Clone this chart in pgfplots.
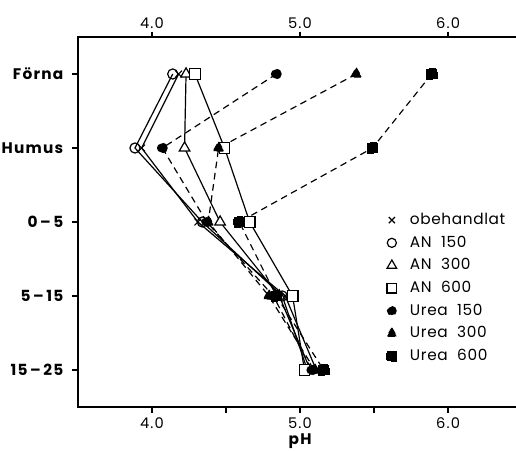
\documentclass[border=0pt]{standalone}
\usepackage{pgfplots}
\pgfplotsset{compat=1.18}
\usepackage{fontspec}
\setmainfont{Poppins}
\newfontfamily\lfont{Poppins}[LetterSpace=8]
\newfontfamily\gfont{Poppins}[LetterSpace=4]
\begin{document}
\begin{tikzpicture}
\useasboundingbox (0,0) rectangle (387pt,337.5pt);
\clip (0,0) rectangle (387pt,337.5pt);
\pgfplotsset{
  common/.style={
    scale only axis, width=344.1pt, height=277.5pt,
    at={(58.5pt,32.25pt)}, anchor=south west,
    xmin=3.5, xmax=6.6, ymin=-0.5, ymax=4.5, y dir=reverse,
    axis line style={line width=1.1pt, black},
    tick style={line width=0.9pt, black},
    tick align=outside,
    /pgf/number format/assume math mode=true,
    ticklabel style={font=\fontsize{11}{12}\selectfont\lfont},
  },
  solidline/.style={black, line width=0.9pt, solid},
  dashline/.style={black, line width=0.9pt, dash pattern=on 5pt off 3.5pt, mark options={solid}},
}
\begin{axis}[common,
  xtick={4,4.5,5,5.5,6}, xticklabels={4.0,,5.0,,6.0},
  xtick pos=lower, xticklabel pos=lower,
  major tick length=4.5pt,
  ytick={0,1,2,3,4},
  yticklabels={Förna,Humus,0\,–\,5,5\,–\,15,15\,–\,25},
  yticklabel style={font=\fontsize{11.5}{12}\selectfont\lfont\bfseries, xshift=-3pt},
  ytick pos=left,
  xlabel={pH},
  xlabel style={font=\fontsize{11.5}{12}\selectfont\lfont\bfseries, at={(axis description cs:0.484,0)}, anchor=north, inner sep=0pt, yshift=-19.5pt},
  legend style={draw=none, fill=none, at={(axis description cs:0.673,0.53)}, anchor=north west,
    font=\fontsize{11.5}{12}\selectfont\gfont, inner sep=0pt, row sep=3.5pt, column sep=8pt,
    nodes={text height=8pt, text depth=1.5pt}},
  legend cell align=left,
  legend image code/.code={\draw[#1, every mark/.append style={scale=0.9}] plot[only marks] coordinates {(0pt,0pt)};},
]
\addplot[solidline, mark=x, mark size=3.6pt] coordinates {(4.18,0) (3.93,1) (4.31,2) (4.90,3) (5.11,4)};
\addlegendentry{obehandlat}
\addplot[solidline, mark=o, mark size=3.8pt, mark options={fill=white}] coordinates {(4.14,0) (3.885,1) (4.34,2) (4.88,3) (5.05,4)};
\addlegendentry{AN\ \ 150}
\addplot[solidline, mark=triangle*, mark size=4.6pt, mark options={fill=white}] coordinates {(4.23,0) (4.22,1) (4.46,2) (4.86,3) (5.07,4)};
\addlegendentry{AN\ \ 300}
\addplot[solidline, mark=square*, mark size=4pt, mark options={fill=white}] coordinates {(4.29,0) (4.49,1) (4.66,2) (4.95,3) (5.03,4)};
\addlegendentry{AN\ \ 600}
\addplot[dashline, mark=*, mark size=3.6pt, mark options={fill=black}] coordinates {(4.84,0) (4.07,1) (4.37,2) (4.82,3) (5.08,4)};
\addlegendentry{Urea\ \ 150}
\addplot[dashline, mark=triangle*, mark size=4.6pt, mark options={fill=black}] coordinates {(5.38,0) (4.45,1) (4.38,2) (4.79,3) (5.10,4)};
\addlegendentry{Urea\ \ 300}
\addplot[dashline, mark=square*, mark size=4pt, mark options={fill=black}] coordinates {(5.89,0) (5.49,1) (4.59,2) (4.84,3) (5.16,4)};
\addlegendentry{Urea\ \ 600}
\end{axis}
\begin{axis}[common,
  xtick={4,5,6}, xticklabels={4.0,5.0,6.0},
  xtick pos=upper, xticklabel pos=upper,
  xticklabel style={yshift=-1.5pt},
  major tick length=4pt,
  ytick=\empty,
]
\end{axis}
\end{tikzpicture}
\end{document}
